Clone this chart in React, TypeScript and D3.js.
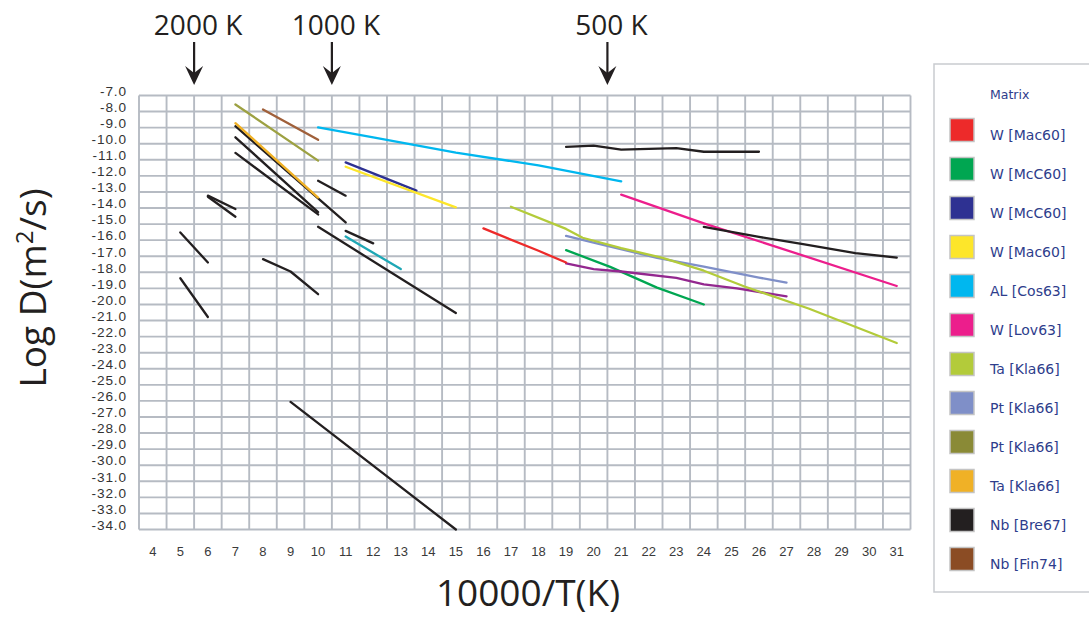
import React from "react";
import * as d3 from "d3";

// ---------- data ----------
const xTickValues = d3.range(4, 32); // 4..31
const yTickValues = d3.range(-7, -35, -1); // -7..-34

const tempMarks = [
  { label: "2000 K", x: 5.5 },
  { label: "1000 K", x: 10.5 },
  { label: "500 K", x: 20.5 },
];

const legendItems = [
  { label: "W [Mac60]", color: "#ed2a2a" },
  { label: "W [McC60]", color: "#00a651" },
  { label: "W [McC60]", color: "#2e3192" },
  { label: "W [Mac60]", color: "#fde62a" },
  { label: "AL [Cos63]", color: "#00b7ef" },
  { label: "W [Lov63]", color: "#ec1e8c" },
  { label: "Ta [Kla66]", color: "#b3cb3a" },
  { label: "Pt [Kla66]", color: "#7f8fc8" },
  { label: "Pt [Kla66]", color: "#8a8a36" },
  { label: "Ta [Kla66]", color: "#f0b126" },
  { label: "Nb [Bre67]", color: "#231f20" },
  { label: "Nb [Fin74]", color: "#8b4c24" },
];

// series points: [10000/T, log D]
const olivePt = [[7, -7.56], [10, -11.05]];
const brownNb = [[8, -7.87], [10, -9.76]];
const orangeTa = [[7, -8.72], [10, -13.35]];
const navyW = [[11, -11.16], [13.57, -12.92]];
const yellowW = [[11, -11.43], [15, -13.96]];
const cyanAL = [[10, -8.98], [12, -9.6], [15, -10.55], [18, -11.35], [21, -12.34]];
const tealLine = [[11, -15.77], [13, -17.8]];
const pinkW = [[21, -13.17], [24, -14.95], [31, -18.85]];
const limeTa = [[17, -13.92], [19, -15.3], [19.6, -15.85], [21, -16.5], [22.5, -17.1], [24, -17.9], [25.5, -18.9], [27.8, -20.25], [31, -22.4]];
const redW = [[16, -15.27], [18, -16.66], [19, -17.39]];
const paleBluePt = [[19, -15.73], [20, -16.15], [22.3, -17.1], [24, -17.65], [26, -18.33], [27, -18.64]];
const greenW = [[19, -16.62], [20.6, -17.66], [22.3, -18.95], [24, -20.0]];
const purpleLine = [[19, -17.45], [20, -17.8], [21, -17.95], [23, -18.35], [24, -18.75], [25.2, -19.0], [27, -19.5]];

const blackA = [[7, -8.91], [11, -14.9]];
const blackB = [[7, -9.6], [10, -14.25]];
const blackC = [[7, -10.57], [10, -14.4]];
const blackD = [[10, -12.3], [11, -13.23]];
const blackE1 = [[6, -13.3], [7, -14.54]];
const blackE2 = [[6, -13.23], [7, -14.06]];
const blackF = [[5, -15.52], [6, -17.39]];
const blackG = [[5, -18.37], [6, -20.78]];
const blackH = [[8, -17.18], [9, -17.95], [10, -19.36]];
const blackI = [[10, -15.17], [15, -20.53]];
const blackJ = [[11, -15.42], [12, -16.2]];
const blackNbTop = [[19, -10.2], [20, -10.12], [21, -10.37], [23, -10.27], [24, -10.5], [26, -10.5]];
const blackNbRight = [[24, -15.17], [26, -15.8], [27.6, -16.25], [29.5, -16.8], [31, -17.08]];
const blackLong = [[9, -26.06], [15, -34]];

const BLACK = "#231f20";
const series = [
  { pts: olivePt, color: "#9da142" },
  { pts: brownNb, color: "#a0603a" },
  { pts: cyanAL, color: "#00b7ef" },
  { pts: navyW, color: "#2e3192" },
  { pts: yellowW, color: "#fde62a" },
  { pts: tealLine, color: "#1ea7b5" },
  { pts: pinkW, color: "#ec1e8c" },
  { pts: paleBluePt, color: "#7f8fc8" },
  { pts: greenW, color: "#00a651" },
  { pts: purpleLine, color: "#93278f" },
  { pts: limeTa, color: "#b3cb3a" },
  { pts: redW, color: "#ed2a2a" },
  { pts: blackA, color: BLACK },
  { pts: orangeTa, color: "#f0b126" },
  { pts: blackB, color: BLACK },
  { pts: blackC, color: BLACK },
  { pts: blackD, color: BLACK },
  { pts: blackE1, color: BLACK },
  { pts: blackE2, color: BLACK },
  { pts: blackF, color: BLACK },
  { pts: blackG, color: BLACK },
  { pts: blackH, color: BLACK },
  { pts: blackI, color: BLACK },
  { pts: blackJ, color: BLACK },
  { pts: blackNbTop, color: BLACK },
  { pts: blackNbRight, color: BLACK },
  { pts: blackLong, color: BLACK },
];

// ---------- layout ----------
const W = 1089;
const H = 617;
const plot = { left: 139, right: 910.5, top: 95.5, bottom: 529.5 };

export default function App() {
  const x = d3.scaleLinear().domain([3.5, 31.5]).range([plot.left, plot.right]);
  const y = d3.scaleLinear().domain([-7, -34]).range([plot.top, plot.bottom]);
  const line = d3
    .line<number[]>()
    .x((d) => x(d[0]))
    .y((d) => y(d[1]));

  const gridX = d3.range(3.5, 32, 1);
  const gridColor = "#b6bbc3";

  return (
    <svg
      width={W}
      height={H}
      style={{ position: "absolute", left: 0, top: 0, background: "#fff" }}
      fontFamily="'Liberation Sans', Arial, sans-serif"
    >
      <rect x={0} y={0} width={W} height={H} fill="#fff" />
      {/* grid */}
      <g stroke={gridColor} strokeWidth={1.9}>
        {gridX.map((v) => (
          <line key={"gx" + v} x1={x(v)} x2={x(v)} y1={plot.top} y2={plot.bottom} />
        ))}
        {yTickValues.map((v) => (
          <line key={"gy" + v} x1={plot.left} x2={plot.right} y1={y(v)} y2={y(v)} />
        ))}
      </g>

      {/* y tick labels */}
      <g fontSize={13.6} fill="#333" textAnchor="end" letterSpacing={0.9}>
        {yTickValues.map((v) => (
          <text key={"yt" + v} x={127} y={y(v) - 4.5} dy="0.35em">
            {v.toFixed(1)}
          </text>
        ))}
      </g>

      {/* x tick labels */}
      <g fontSize={13} fill="#3a3a3a" textAnchor="middle">
        {xTickValues.map((v) => (
          <text key={"xt" + v} x={x(v)} y={556}>
            {v}
          </text>
        ))}
      </g>

      {/* series */}
      <g fill="none" strokeWidth={2.3} strokeLinecap="round" strokeLinejoin="round">
        {series.map((s, i) => (
          <path key={"s" + i} d={line(s.pts) || ""} stroke={s.color} />
        ))}
      </g>

      {/* temperature arrows */}
      <g fill={BLACK} stroke={BLACK}>
        {tempMarks.map((m) => {
          const cx = x(m.x);
          return (
            <g key={m.label}>
              <text
                x={cx + 4}
                y={35}
                fontSize={28}
                textAnchor="middle"
                stroke="none"
                fontFamily="'Open Sans', 'Liberation Sans', sans-serif"
              >
                {m.label}
              </text>
              <line x1={cx} x2={cx} y1={42} y2={74} strokeWidth={2.2} />
              <path
                d={`M${cx},85 L${cx - 9},66 L${cx},73 L${cx + 9},66 Z`}
                stroke="none"
              />
            </g>
          );
        })}
      </g>

      {/* axis titles */}
      <text
        x={528}
        y={606}
        fontSize={37}
        textAnchor="middle"
        fill={BLACK}
        fontFamily="'Open Sans', 'Liberation Sans', sans-serif"
      >
        10000/T(K)
      </text>
      <text
        transform={`translate(46,288) rotate(-90)`}
        fontSize={37}
        textAnchor="middle"
        fill={BLACK}
        fontFamily="'Open Sans', 'Liberation Sans', sans-serif"
      >
        Log D(m<tspan fontSize={24} dy={-13}>2</tspan>
        <tspan dy={13}>/s)</tspan>
      </text>

      {/* legend */}
      <rect x={934} y={64} width={170} height={528} fill="#fff" stroke="#c9cbd0" strokeWidth={1.5} />
      <text x={990} y={99} fontSize={12.5} fill="#2e3d8c" fontFamily="'DejaVu Sans', sans-serif">
        Matrix
      </text>
      {legendItems.map((it, i) => {
        const cy = 130 + i * 39;
        return (
          <g key={"lg" + i}>
            <rect x={950} y={cy - 11.5} width={24} height={23} fill={it.color} stroke="#c4c4c4" strokeWidth={1.5} />
            <text x={990} y={cy + 10} fontSize={14} fill="#2e3d8c" fontFamily="'DejaVu Sans', sans-serif">
              {it.label}
            </text>
          </g>
        );
      })}
    </svg>
  );
}
